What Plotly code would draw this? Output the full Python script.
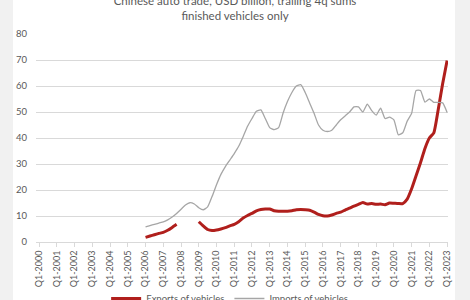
import plotly.graph_objects as go

# Quarter labels Q1-2000 .. Q1-2023 (93 quarters), ticks every Q1
years = list(range(2000, 2024))
tick_labels = [f"Q1-{y}" for y in years]
n_quarters = 93
quarter_idx = list(range(n_quarters))

# Data start at Q1-2006 (index 24)
start_idx = 24
exports = [1.8, 2.3, 2.8, 3.3, 3.7, 4.5, 5.6, 6.8,
           None, None, None, None,
           7.8, 6.2, 4.8, 4.4, 4.6, 5.0, 5.5, 6.2,
           6.8, 7.8, 9.2, 10.2, 11.0, 12.0, 12.5, 12.7,
           12.7, 12.0, 11.8, 11.8, 11.8, 12.0, 12.4, 12.5,
           12.4, 12.2, 11.5, 10.6, 10.1, 10.0, 10.4, 11.0,
           11.5, 12.3, 13.0, 13.8, 14.5, 15.2, 14.6, 14.8,
           14.5, 14.6, 14.3, 15.0, 14.9, 14.8, 14.8, 16.5,
           20.5, 25.5, 30.5, 36.0, 40.0, 42.0, 51.0, 61.0,
           69.8]
imports = [5.8, 6.3, 6.8, 7.3, 7.7, 8.5, 9.6, 11.0,
           12.6, 14.2, 15.1, 14.6, 13.2, 12.4, 13.5, 17.5,
           22.0, 26.0, 29.0, 31.5, 34.0, 36.8, 40.5, 44.5,
           47.5, 50.3, 50.8, 47.5, 44.0, 43.2, 44.0, 49.5,
           54.0, 57.5, 60.0, 60.5, 57.5, 53.5, 49.5, 45.0,
           43.0, 42.5, 43.0, 45.0, 47.0, 48.5, 50.0, 52.0,
           52.0, 50.0, 53.0, 50.5, 48.8, 51.5, 47.5, 48.0,
           47.0, 41.2, 42.0, 46.5, 49.5, 58.3, 58.3, 53.8,
           55.0, 53.7, 53.7, 53.5, 49.8]

x_vals = quarter_idx[start_idx:start_idx + len(exports)]

FONT = "Lato"
TXT = "#595959"
GRID = "#d9d9d9"

fig = go.Figure()
fig.add_trace(go.Scatter(
    x=x_vals, y=exports, mode="lines", name="Exports of vehicles",
    line=dict(color="#b01f1c", width=3, shape="spline", smoothing=0.5),
    connectgaps=False,
))
fig.add_trace(go.Scatter(
    x=x_vals, y=imports, mode="lines", name="Imports of vehicles",
    line=dict(color="#a6a6a6", width=1.3, shape="spline", smoothing=0.5),
))

W, H = 470, 300
ml, mr, mt, mb = 36, 22, 34, 58
pw = W - ml - mr
ph = H - mt - mb

fig.add_shape(type="rect", xref="paper", yref="paper",
              x0=(13 - ml) / pw, x1=(455 - ml) / pw,
              y0=-1, y1=1.5, fillcolor="white", line=dict(width=0),
              layer="below")

fig.update_layout(
    width=W, height=H,
    margin=dict(l=ml, r=mr, t=mt, b=mb, autoexpand=False),
    paper_bgcolor="#f1f1f1",
    plot_bgcolor="rgba(0,0,0,0)",
    font=dict(family=FONT, size=9, color=TXT),
    title=dict(text="Chinese auto trade, USD billion, trailing 4q sums<br>finished vehicles only",
               x=0.5, xanchor="center", xref="container",
               y=1 - 5 / H, yanchor="middle", yref="container",
               font=dict(family=FONT, size=11.5, color=TXT)),
    showlegend=True,
    legend=dict(orientation="h", x=0.47, xanchor="center", y=-(284 - 242) / ph, yanchor="top",
                font=dict(family=FONT, size=9.5, color=TXT),
                bgcolor="rgba(0,0,0,0)", itemwidth=30, tracegroupgap=0),
    xaxis=dict(range=[-0.7, 92.2], tickvals=[i * 4 for i in range(len(years))],
               ticktext=tick_labels, tickangle=-90, showgrid=False,
               showline=True, linecolor=GRID, linewidth=1, automargin=False,
               ticks="outside", ticklen=4, tickcolor=GRID,
               tickfont=dict(family=FONT, size=9, color=TXT), zeroline=False),
    yaxis=dict(range=[0, 80], dtick=10, showgrid=True, gridcolor=GRID, gridwidth=1,
               zeroline=False, showline=False, ticks="", automargin=False,
               ticklabelstandoff=8,
               tickfont=dict(family=FONT, size=9.5, color=TXT)),
)

fig.write_html("out.html")
